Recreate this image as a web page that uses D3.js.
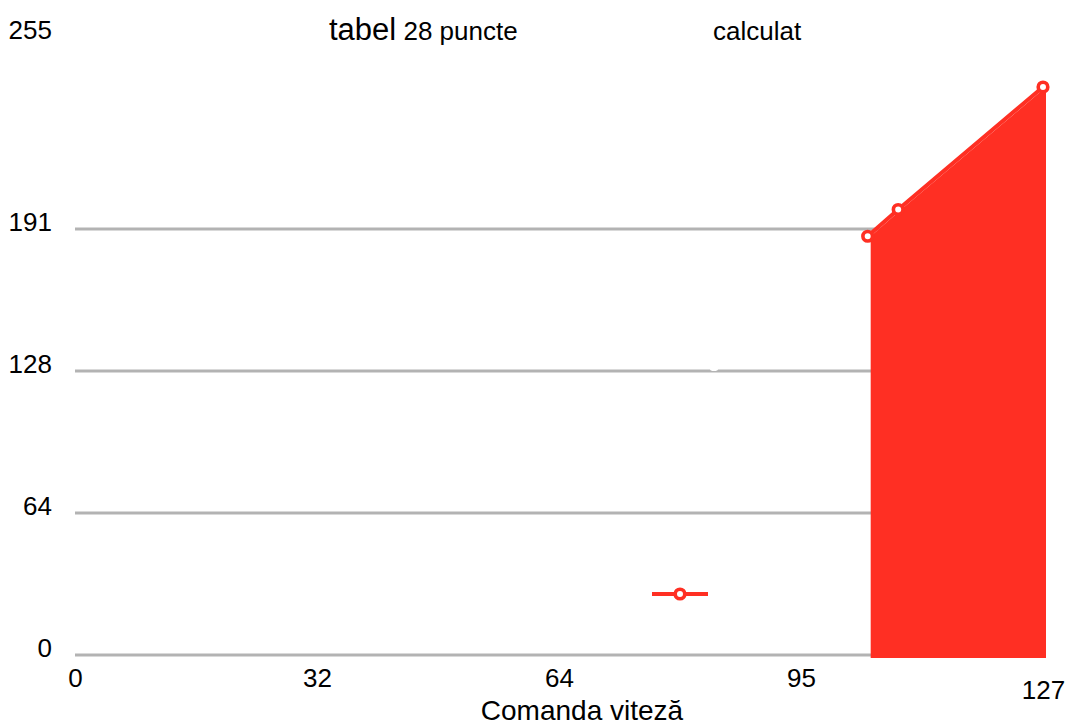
<!DOCTYPE html>
<html>
<head>
<meta charset="utf-8">
<script src="https://cdn.jsdelivr.net/npm/d3@7"></script>
<style>
  html, body { margin: 0; padding: 0; background: #ffffff; }
  svg { display: block; font-family: "Liberation Sans", Arial, sans-serif; }
</style>
</head>
<body>
<svg id="chart" width="1068" height="728"></svg>
<script>
// ---- data ----
const tableX = [104, 108, 127];
const tableY = [188, 200, 255];
const calcX = [104, 108, 127];
const calcY = [188, 200, 255];
const xTickLabels = ["0", "32", "64", "95", "127"];
const yTickLabels = ["0", "64", "128", "191", "255"];
const xMax = 127;
const yMax = 255;
const seriesNames = ["tabel", "28 puncte", "calculat"];
const xTitle = "Comanda viteză";

const RED = "#ff2f23";
const GRID = "#b3b3b3";
const FONT = "Liberation Sans, Arial, sans-serif";

const svg = d3.select("#chart");
const x = d3.scaleLinear().domain([0, xMax]).range([75, 1043]);
const y = d3.scaleLinear().domain([0, yMax]).range([655, 87]);

const xTickVals = xTickLabels.map((d, i) => xMax * i / 4);
const yTickVals = yTickLabels.map((d, i) => yMax * i / 4);

// gridlines (not for the top value)
svg.append("g").selectAll("line")
  .data(yTickVals.slice(0, 4))
  .join("line")
  .attr("x1", x(0)).attr("x2", x(xMax))
  .attr("y1", d => y(d)).attr("y2", d => y(d))
  .attr("stroke", GRID).attr("stroke-width", 3);

// area "calculat"
const calcData = calcX.map((d, i) => [d, calcY[i]]);
svg.append("path")
  .datum(calcData)
  .attr("transform", "translate(3,0)")
  .attr("fill", RED)
  .attr("d", d3.area().x(d => x(d[0])).y0(y(0) + 3).y1(d => y(d[1])));

// line "tabel 28 puncte"
const tableData = tableX.map((d, i) => [d, tableY[i]]);
svg.append("path")
  .datum(tableData)
  .attr("fill", "none")
  .attr("stroke", RED)
  .attr("stroke-width", 4)
  .attr("d", d3.line().x(d => x(d[0])).y(d => y(d[1])));
svg.append("g").selectAll("circle")
  .data(tableData)
  .join("circle")
  .attr("cx", d => x(d[0])).attr("cy", d => y(d[1]))
  .attr("r", 4.8)
  .attr("fill", "#ffffff")
  .attr("stroke", RED).attr("stroke-width", 3.6);

// legend glyph (placed inside the plot in the original)
const lg = svg.append("g").attr("transform", "translate(680,594)");
lg.append("line").attr("x1", -28).attr("x2", 28).attr("y1", 0).attr("y2", 0)
  .attr("stroke", RED).attr("stroke-width", 4);
lg.append("circle").attr("r", 4.8).attr("fill", "#fff")
  .attr("stroke", RED).attr("stroke-width", 3.6);
svg.append("ellipse").attr("cx", 714).attr("cy", 369).attr("rx", 4).attr("ry", 2).attr("fill", "#fff");

// x axis
const xAxis = svg.append("g")
  .attr("transform", `translate(0,${y(0)})`)
  .call(d3.axisBottom(x).tickValues(xTickVals).tickSize(0).tickPadding(0)
    .tickFormat((d, i) => xTickLabels[i]))
  .attr("font-size", 26).attr("font-family", FONT);
xAxis.select(".domain").remove();
xAxis.selectAll("text")
  .attr("fill", "#000")
  .attr("y", (d, i) => i === 4 ? 44 : 32)
  .attr("dy", 0);

// y axis
const yAxis = svg.append("g")
  .attr("transform", "translate(52,0)")
  .call(d3.axisLeft(y).tickValues(yTickVals).tickSize(0).tickPadding(0)
    .tickFormat((d, i) => yTickLabels[i]))
  .attr("font-size", 26).attr("font-family", FONT);
yAxis.select(".domain").remove();
yAxis.selectAll(".tick")
  .attr("transform", (d, i) => `translate(0,${i === 4 ? 30 : y(d) - 7})`);
yAxis.selectAll("text").attr("fill", "#000").attr("dy", "0.35em");

// title / legend texts
const t = svg.append("text").attr("x", 329).attr("y", 40).attr("fill", "#000");
t.append("tspan").attr("font-size", 31).text(seriesNames[0]);
t.append("tspan").attr("font-size", 26).text(" " + seriesNames[1]);
svg.append("text").attr("x", 713).attr("y", 40).attr("font-size", 26)
  .attr("fill", "#000").text(seriesNames[2]);

// x title
svg.append("text").attr("x", 582).attr("y", 720).attr("text-anchor", "middle")
  .attr("font-size", 28).attr("fill", "#000").text(xTitle);
</script>
</body>
</html>
